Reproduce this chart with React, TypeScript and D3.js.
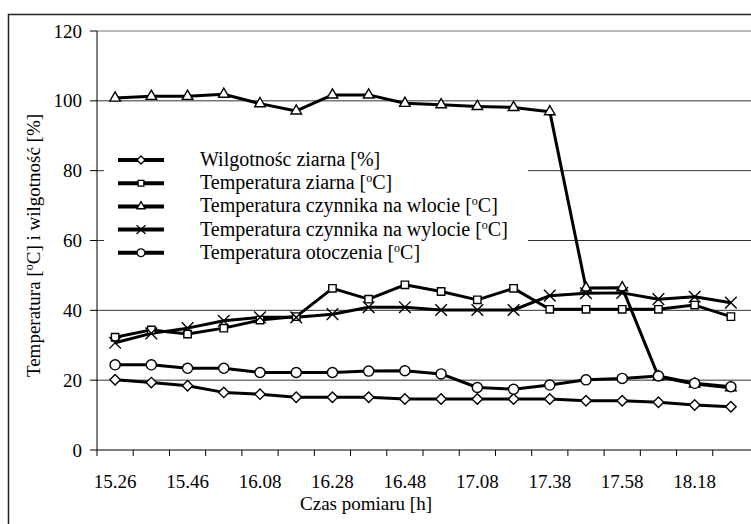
import React from "react";
import * as d3 from "d3";

// czas pomiaru (co druga etykieta widoczna na osi)
const czas = [
  "15.26", "15.36", "15.46", "15.57", "16.08", "16.18", "16.28", "16.38", "16.48",
  "16.58", "17.08", "17.23", "17.38", "17.48", "17.58", "18.08", "18.18", "18.28",
];

const wilgotnoscZiarna = [20.1, 19.3, 18.4, 16.5, 16.0, 15.1, 15.1, 15.1, 14.6, 14.6, 14.6, 14.6, 14.6, 14.1, 14.1, 13.7, 12.9, 12.4];
const tempZiarna = [32.3, 34.4, 33.2, 34.9, 37.2, 38.2, 46.3, 43.2, 47.3, 45.4, 43.0, 46.3, 40.3, 40.3, 40.3, 40.3, 41.5, 38.2];
const tempWlot = [100.8, 101.3, 101.3, 101.9, 99.2, 97.1, 101.7, 101.7, 99.3, 98.9, 98.4, 98.1, 96.9, 46.4, 46.5, 21.0, 18.9, 17.8];
const tempWylot = [30.7, 33.4, 34.9, 37.0, 38.0, 38.0, 38.9, 40.9, 40.9, 40.1, 40.1, 40.1, 44.2, 44.9, 45.0, 43.2, 43.9, 42.2];
const tempOtoczenia = [24.4, 24.4, 23.4, 23.4, 22.2, 22.2, 22.2, 22.6, 22.7, 21.8, 17.9, 17.4, 18.6, 20.1, 20.5, 21.2, 19.1, 18.1];

const yTicks = [0, 20, 40, 60, 80, 100, 120];

const series = [
  { name: "Wilgotnośc ziarna [%]", values: wilgotnoscZiarna, symbol: d3.symbolDiamond2, size: 70 },
  { name: "Temperatura ziarna [", sup: true, values: tempZiarna, symbol: d3.symbolSquare2, size: 70 },
  { name: "Temperatura czynnika na wlocie [", sup: true, values: tempWlot, symbol: d3.symbolTriangle2, size: 80 },
  { name: "Temperatura czynnika na wylocie [", sup: true, values: tempWylot, symbol: d3.symbolTimes, size: 90 },
  { name: "Temperatura otoczenia [", sup: true, values: tempOtoczenia, symbol: d3.symbolCircle, size: 80 },
];

const W = 751;
const H = 524;
const left = 97;
const right = 749;
const top = 31;
const bottom = 450;
const font = "Liberation Serif, Times New Roman, serif";

export default function App() {
  const x = d3.scaleBand<string>().domain(czas).range([left, right]).padding(0);
  const y = d3.scaleLinear().domain([0, 120]).range([bottom, top]);
  const cx = (i: number) => (x(czas[i]) as number) + x.bandwidth() / 2;

  const line = d3
    .line<number>()
    .x((d, i) => cx(i))
    .y((d) => y(d));

  const tickX = czas.map((c) => x(c) as number);

  return (
    <svg width={W} height={H} style={{ position: "absolute", left: 0, top: 0, fontFamily: font }}>
      <rect x={0} y={0} width={W} height={H} fill="#fff" />
      <rect x={8.5} y={14.5} width={W + 20} height={H + 20} fill="none" stroke="#222" strokeWidth={1.5} />

      {/* linie siatki */}
      {yTicks.filter((t) => t > 0).map((t) => (
        <line key={t} x1={left} x2={W} y1={y(t)} y2={y(t)} stroke={t === 120 ? "#777" : "#333"} strokeWidth={1} />
      ))}

      {/* osie */}
      <line x1={left} x2={left} y1={top} y2={bottom} stroke="#000" />
      <line x1={left} x2={W} y1={bottom} y2={bottom} stroke="#000" />
      {yTicks.map((t) => (
        <g key={t}>
          <line x1={left - 7} x2={left} y1={y(t)} y2={y(t)} stroke="#000" />
          <text x={left - 15} y={y(t)} dy="0.35em" textAnchor="end" fontSize={19} fontFamily={font}>{t}</text>
        </g>
      ))}
      {tickX.map((t, i) => (
        <line key={i} x1={t} x2={t} y1={bottom} y2={bottom + 6} stroke="#000" />
      ))}
      {czas.map((c, i) => (i % 2 === 0 ? (
        <text key={c} x={cx(i)} y={488} textAnchor="middle" fontSize={19} fontFamily={font}>{c}</text>
      ) : null))}

      <text x={366} y={510} textAnchor="middle" fontSize={19} fontFamily={font}>Czas pomiaru [h]</text>
      <text transform={`translate(40,${(top + bottom) / 2 + 5}) rotate(-90)`} textAnchor="middle" fontSize={19} fontFamily={font}>
        Temperatura [<tspan fontSize={12} dy={-7}>o</tspan><tspan dy={7}>C] i wilgotność [%]</tspan>
      </text>

      {/* legenda */}
      <rect x={104} y={148} width={424} height={116} fill="#fff" />
      {series.map((s, i) => {
        const ly = 160 + i * 23.2;
        return (
          <g key={s.name}>
            <line x1={118} x2={164} y1={ly} y2={ly} stroke="#000" strokeWidth={4} />
            <path d={d3.symbol().type(s.symbol).size(s.size * 0.6)()!} transform={`translate(141,${ly})`} fill="#fff" stroke="#000" strokeWidth={1.3} />
            <text x={200} y={ly} dy="0.3em" fontSize={20} fontFamily={font}>
              {s.sup ? (
                <>
                  {s.name}
                  <tspan fontSize={12} dy={-7}>o</tspan>
                  <tspan dy={7}>C]</tspan>
                </>
              ) : s.name}
            </text>
          </g>
        );
      })}

      {/* serie */}
      {series.map((s) => (
        <path key={s.name} d={line(s.values)!} fill="none" stroke="#000" strokeWidth={3} strokeLinejoin="round" />
      ))}
      {series.map((s) => (
        <g key={s.name + "m"}>
          {s.values.map((v, i) => (
            <path key={i} d={d3.symbol().type(s.symbol).size(s.size)()!} transform={`translate(${cx(i)},${y(v)})`} fill="#fff" stroke="#000" strokeWidth={1.4} />
          ))}
        </g>
      ))}
    </svg>
  );
}
